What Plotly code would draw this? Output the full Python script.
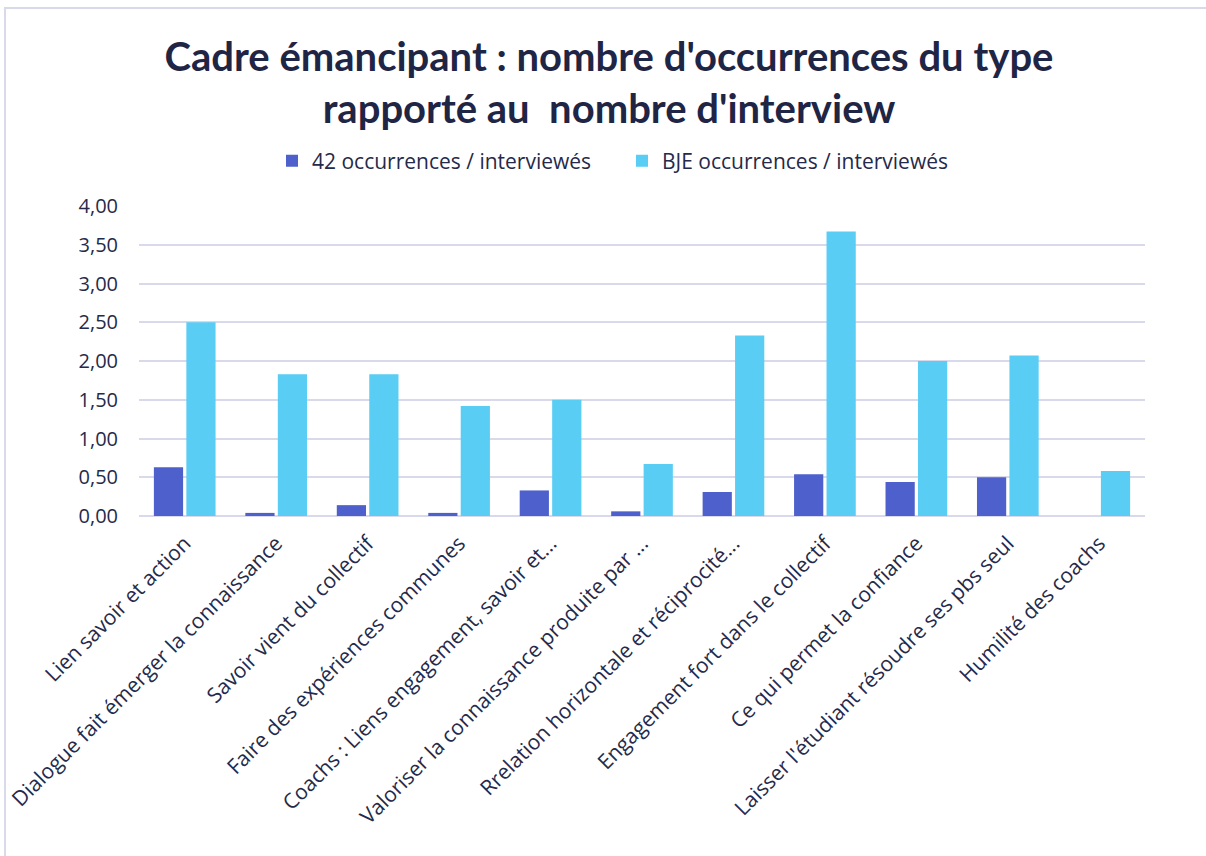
import plotly.graph_objects as go

categories = [
    "Lien savoir et action",
    "Dialogue fait émerger la connaissance",
    "Savoir vient du collectif",
    "Faire des expériences communes",
    "Coachs : Liens engagement, savoir et...",
    "Valoriser la connaissance produite par ...",
    "Rrelation horizontale et réciprocité...",
    "Engagement fort dans le collectif",
    "Ce qui permet la confiance",
    "Laisser l'étudiant résoudre ses pbs seul",
    "Humilité des coachs",
]
series_42 = [0.63, 0.04, 0.14, 0.04, 0.33, 0.06, 0.31, 0.54, 0.44, 0.50, 0.0]
series_bje = [2.50, 1.83, 1.83, 1.42, 1.50, 0.67, 2.33, 3.67, 2.00, 2.07, 0.58]
name_42 = "42 occurrences / interviewés"
name_bje = "BJE occurrences / interviewés"
y_ticks = [0, 0.5, 1, 1.5, 2, 2.5, 3, 3.5, 4]

text_color = "#252a4a"
grid_color = "#d9d9ec"

fig = go.Figure()
fig.add_trace(go.Bar(x=categories, y=series_42, name=name_42,
                     marker=dict(color="#4d60cb", line=dict(width=0))))
fig.add_trace(go.Bar(x=categories, y=series_bje, name=name_bje,
                     marker=dict(color="#59cdf4", line=dict(width=0))))

W, H = 1206, 856
L, R, T, B = 139, 61, 206, 340
pw, ph = W - L - R, H - T - B

def px_x(p):
    return (p - L) / pw

def px_y(p):
    return 1 + (T - p) / ph

fig.update_layout(
    width=W, height=H,
    margin=dict(l=L, r=R, t=T, b=B, autoexpand=False),
    paper_bgcolor="white", plot_bgcolor="white",
    separators=",.",
    barmode="group", bargap=0.29, bargroupgap=0.1,
    title=dict(
        text="<b>Cadre émancipant : nombre d'occurrences du type<br>rapporté au  nombre d'interview</b>",
        x=0.505, xanchor="center", y=1 - 71 / H, yanchor="middle",
        font=dict(family="Lato", size=40, color="#1f2545"),
    ),
    legend=dict(
        orientation="h", x=px_x(272), xanchor="left", y=px_y(161), yanchor="middle",
        font=dict(family="Open Sans", size=21, color=text_color),
        traceorder="normal", entrywidth=305, itemwidth=30,
    ),
    font=dict(family="Open Sans", color=text_color),
    xaxis=dict(
        tickangle=-45, tickfont=dict(family="Open Sans", size=21, color=text_color),
        showgrid=False, showline=False, ticks="", ticklabelstandoff=10,
    ),
    yaxis=dict(
        range=[0, 4.0], tickvals=y_ticks, tickformat=".2f",
        tickfont=dict(family="Open Sans", size=20, color=text_color),
        showgrid=True, gridcolor=grid_color, gridwidth=2,
        zeroline=True, zerolinecolor=grid_color, zerolinewidth=2,
        showline=False, ticks="", ticklabelstandoff=20,
    ),
    shapes=[dict(type="rect", xref="paper", yref="paper",
                 x0=px_x(5), x1=px_x(1300), y0=px_y(1000), y1=px_y(8),
                 line=dict(color=grid_color, width=2), fillcolor="rgba(0,0,0,0)",
                 layer="below")],
)

fig.write_html("out.html", config={"displayModeBar": False},
               post_script="document.body.style.margin='0';document.body.style.overflow='hidden';")
